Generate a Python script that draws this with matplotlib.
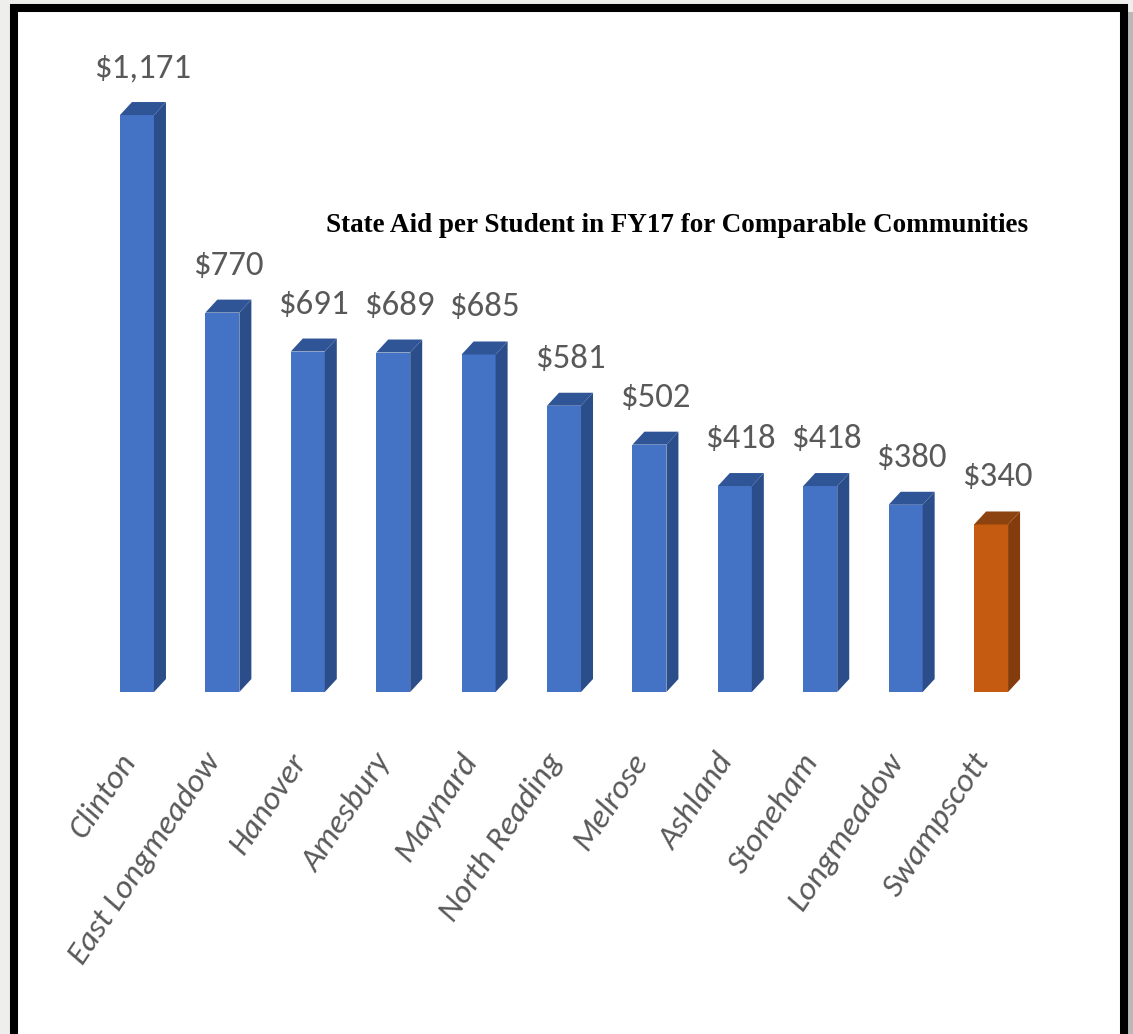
import matplotlib.pyplot as plt
from matplotlib import font_manager as fm
from matplotlib.patches import Polygon, Rectangle
from matplotlib.transforms import ScaledTranslation

towns = ['Clinton', 'East Longmeadow', 'Hanover', 'Amesbury', 'Maynard',
         'North Reading', 'Melrose', 'Ashland', 'Stoneham', 'Longmeadow',
         'Swampscott']
aid = [1171, 770, 691, 689, 685, 581, 502, 418, 418, 380, 340]
highlight = 'Swampscott'


def pick_font(candidates):
    have = {f.name for f in fm.fontManager.ttflist}
    for c in candidates:
        if c in have:
            return c
    return 'DejaVu Sans'


# Calibri-like font for labels (Carlito is metric compatible)
label_font = pick_font(['Carlito', 'Liberation Sans Narrow', 'Archivo Narrow',
                        'Roboto Condensed', 'PT Sans Narrow', 'Open Sans'])

W, H = 1133, 1034
fig = plt.figure(figsize=(W / 100, H / 100), dpi=100)
fig.patch.set_facecolor('#eeeeec')

# white card with the thick black frame
frame = Rectangle((14 / W, -0.05), (1123.5 - 14) / W, 1.05 - 8 / H,
                  transform=fig.transFigure, facecolor='white',
                  edgecolor='black', linewidth=5.8, zorder=-1)
shadow = Rectangle((1127 / W, -0.05), 6 / W, 1.05 - 12 / H,
                   transform=fig.transFigure, facecolor='#b8b8b8',
                   edgecolor='none', zorder=-2)
fig.patches.extend([shadow, frame])

ax = fig.add_axes([80 / W, (H - 692) / H, (1050 - 80) / W, (692 - 30) / H])
ax.set_facecolor('none')
ax.set_xlim(-0.667, 10.69)
ax.set_ylim(0, 1343.6)
for s in ax.spines.values():
    s.set_visible(False)
ax.set_yticks([])
ax.tick_params(axis='x', length=0, pad=46)

# pixel -> data sizes for the fake 3D depth
x_per_px = (10.69 + 0.667) / (1050 - 80)
y_per_px = 1343.6 / (692 - 30)
bw = 34 * x_per_px
dx = 12 * x_per_px
dy = 13 * y_per_px

for i, (t, v) in enumerate(zip(towns, aid)):
    if t == highlight:
        front, side, top = '#c55a11', '#843c0c', '#8d4310'
    else:
        front, side, top = '#4472c4', '#2b4d8a', '#2f5597'
    x0 = i - bw / 2
    x1 = i + bw / 2
    ax.bar(i, v, width=bw, color=front, zorder=3)
    ax.add_patch(Polygon([(x1, 0), (x1, v), (x1 + dx, v + dy), (x1 + dx, dy)],
                         closed=True, facecolor=side, edgecolor='none', zorder=3))
    ax.add_patch(Polygon([(x0, v), (x1, v), (x1 + dx, v + dy), (x0 + dx, v + dy)],
                         closed=True, facecolor=top, edgecolor='none', zorder=3))
    ax.annotate(f'${v:,}', (i + dx / 2, v), xytext=(0, 47 * 0.72),
                textcoords='offset points', ha='center', va='center',
                fontsize=25, color='#595959', family=[label_font, 'DejaVu Sans'])

ax.set_xticks(range(len(towns)))
ax.set_xticklabels(towns, rotation=56, ha='right', va='center',
                   rotation_mode='anchor', fontsize=24, style='italic',
                   color='#595959', family=[label_font, 'DejaVu Sans'])
shift = ScaledTranslation(-8 / 100, 0, fig.dpi_scale_trans)
for lbl in ax.get_xticklabels():
    lbl.set_transform(lbl.get_transform() + shift)

fig.text(677 / W, 1 - 226 / H,
         'State Aid per Student in FY17 for Comparable Communities',
         ha='center', va='center', fontsize=19.5, fontweight='bold',
         family=['Liberation Serif', 'DejaVu Serif'], color='black')

fig.savefig('out.png', dpi=100, facecolor=fig.get_facecolor())
